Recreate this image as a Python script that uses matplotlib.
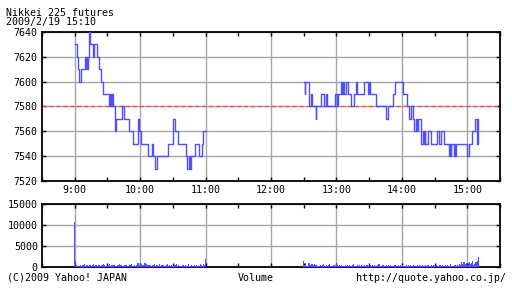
import matplotlib
matplotlib.use("Agg")
import matplotlib.pyplot as plt

# ── price: change points (minutes after 9:00, yen) ─────────────────────────────
am_t = [0, 1.8, 2.7, 3.6, 5.6, 9.5, 10.2, 10.8, 11.4, 11.9, 12.8, 13.8, 16.5, 17.8,
        20.4, 22.5, 24.5, 25.8, 31.2, 32, 33, 34, 35, 36.8, 37.6, 43, 45.5, 49.5,
        53, 57.7, 59.3, 60.8, 66.8, 70.5, 71.6, 73.2, 75.2, 85.2, 90, 91.9, 95,
        102.5, 103.4, 104.5, 105.4, 106.8, 110.2, 114.4, 116.3, 117.5, 120]
am_p = [7630, 7620, 7610, 7600, 7610, 7620, 7610, 7620, 7610, 7620, 7640, 7630, 7620, 7630,
        7620, 7610, 7600, 7590, 7580, 7590, 7580, 7590, 7580, 7560, 7570, 7580, 7570, 7560,
        7550, 7570, 7560, 7550, 7540, 7550, 7540, 7530, 7540, 7550, 7570, 7560, 7550,
        7540, 7530, 7540, 7530, 7540, 7550, 7540, 7550, 7560, 7560]

pm_t = [210, 210.8, 211.5, 214.8, 216.5, 217.8, 221, 221.7, 225.6, 228.8, 230.2, 231.4,
        238.8, 240.2, 241, 244.6, 245.4, 246, 246.8, 249, 250.4, 253, 256, 258.3, 259.3,
        265.4, 269, 269.8, 270.6, 276.7, 285.5, 287.5, 291.8, 294, 301, 304.3, 306.5,
        308.8, 310.4, 311.3, 312.8, 313.5, 315.2, 317.5, 319.6, 320.3, 321, 321.6, 324.2,
        326.6, 332.5, 334.3, 335.5, 338.9, 343.5, 344.1, 344.7, 345.4, 347.8, 348.4, 349,
        349.6, 360, 361.2, 364, 367.1, 368.6, 369.8, 370]
pm_p = [7600, 7590, 7600, 7580, 7590, 7580, 7570, 7580, 7590, 7580, 7590, 7580,
        7590, 7580, 7590, 7600, 7590, 7600, 7590, 7600, 7590, 7580, 7590, 7600, 7590,
        7600, 7590, 7600, 7590, 7580, 7570, 7580, 7590, 7600, 7590, 7580, 7570,
        7580, 7570, 7560, 7570, 7560, 7570, 7550, 7560, 7550, 7560, 7550, 7560,
        7550, 7560, 7550, 7560, 7550, 7540, 7550, 7540, 7550, 7540, 7550, 7540,
        7550, 7540, 7550, 7560, 7570, 7550, 7570, 7570]

prev_close = 7580

# ── volume per minute ─────────────────────────────────────────────────────────
vol_am = [10700, 1500, 450, 350, 300, 500, 250, 450, 400, 600,
          300, 500, 450, 250, 400, 300, 450, 650, 300, 400,
          450, 250, 400, 500, 300, 450, 750, 400, 300, 250,
          450, 400, 600, 300, 500, 400, 450, 250, 300, 400,
          500, 750, 450, 400, 300, 250, 400, 450, 300, 250,
          400, 450, 650, 300, 250, 400, 300, 450, 850, 500,
          600, 750, 450, 400, 900, 1000, 600, 450, 400, 500,
          300, 450, 400, 800, 300, 450, 400, 250, 600, 300,
          400, 450, 250, 300, 400, 650, 300, 450, 250, 400,
          300, 250, 450, 700, 300, 400, 250, 300, 250, 400,
          450, 250, 400, 300, 650, 250, 300, 400, 250, 300,
          400, 250, 450, 300, 250, 650, 400, 300, 700, 450,
          2000]
vol_pm = [1400, 450, 850, 300, 900, 850, 400, 800, 600, 450,
          750, 400, 450, 250, 300, 500, 250, 400, 600, 300,
          250, 450, 300, 400, 650, 300, 250, 400, 450, 300,
          600, 400, 250, 450, 300, 400, 250, 300, 500, 250,
          400, 300, 450, 250, 300, 400, 650, 300, 250, 400,
          300, 450, 250, 400, 300, 250, 450, 300, 400, 250,
          300, 500, 250, 400, 300, 450, 250, 300, 400, 600,
          250, 300, 400, 450, 250, 300, 400, 250, 500, 300,
          400, 250, 300, 450, 400, 250, 300, 400, 250, 450,
          300, 400, 250, 300, 500, 250, 400, 300, 450, 250,
          300, 400, 250, 300, 450, 250, 400, 300, 250, 400,
          300, 250, 450, 300, 400, 250, 300, 450, 250, 400,
          300, 250, 400, 300, 250, 450, 300, 400, 250, 300,
          400, 250, 450, 300, 250, 600, 300, 250, 400, 450,
          300, 400, 250, 800, 500, 1100, 700, 1300, 600, 900,
          450, 850, 1200, 700, 1000, 1500, 500, 800, 1100, 1400,
          2300]

hour_ticks = [0, 60, 120, 180, 240, 300, 360]
hour_labels = ["9:00", "10:00", "11:00", "12:00", "13:00", "14:00", "15:00"]
half_ticks = [-30, 30, 90, 150, 210, 270, 330, 390]

BLUE = "#4f4fff"
GRID = "#a6a6a6"
FONT = "DejaVu Sans Mono"
FS = 7.2

plt.rcParams["font.family"] = FONT
plt.rcParams["lines.scale_dashes"] = False

fig = plt.figure(figsize=(5.12, 2.88), dpi=100)
fig.patch.set_facecolor("white")

ax1 = fig.add_axes([42 / 512, 1 - 181 / 288, 458 / 512, 149 / 288])
ax2 = fig.add_axes([42 / 512, 1 - 267 / 288, 458 / 512, 63 / 288])

for ax in (ax1, ax2):
    ax.set_xlim(-30, 390)
    for s in ax.spines.values():
        s.set_linewidth(1.3)
        s.set_color("black")
    ax.set_xticks(hour_ticks)
    ax.set_xticks(half_ticks, minor=True)
    ax.tick_params(which="both", direction="in", length=3, width=1,
                   top=True, right=True, labelsize=FS, pad=3)
    ax.grid(axis="both", which="major", color=GRID, linewidth=1)
    ax.set_axisbelow(True)

# ── TOP: price ───────────────────────────────────────────────────────────────
ax1.axhline(prev_close, color="#ff5050", linewidth=1, dashes=(3, 2), zorder=2)
ax1.plot(am_t, am_p, drawstyle="steps-post", color=BLUE, linewidth=1, zorder=3)
ax1.plot(pm_t, pm_p, drawstyle="steps-post", color=BLUE, linewidth=1, zorder=3)
ax1.set_ylim(7520, 7640)
ax1.set_yticks(range(7520, 7641, 20))
ax1.set_xticklabels(hour_labels)

# ── BOTTOM: volume ───────────────────────────────────────────────────────────
ax2.bar(range(0, 121), vol_am, width=1.0, color=BLUE, linewidth=0,
        antialiased=False, zorder=3)
ax2.bar(range(210, 371), vol_pm, width=1.0, color=BLUE, linewidth=0,
        antialiased=False, zorder=3)
ax2.set_ylim(0, 15000)
ax2.set_yticks([0, 5000, 10000, 15000])
ax2.tick_params(axis="x", labelbottom=False)

# ── texts ─────────────────────────────────────────────────────────────────────
fig.text(6 / 512, 1 - 15.5 / 288, "Nikkei 225 futures", fontsize=FS, va="baseline")
fig.text(6 / 512, 1 - 24.5 / 288, "2009/2/19 15:10", fontsize=FS, va="baseline")
fig.text(7 / 512, 1 - 281 / 288, "(C)2009 Yahoo! JAPAN", fontsize=FS, va="baseline")
fig.text(256 / 512, 1 - 281 / 288, "Volume", fontsize=FS, va="baseline", ha="center")
fig.text(506 / 512, 1 - 281 / 288, "http://quote.yahoo.co.jp/", fontsize=FS,
         va="baseline", ha="right")

plt.savefig("out.png", dpi=100, facecolor="white")
plt.close()
